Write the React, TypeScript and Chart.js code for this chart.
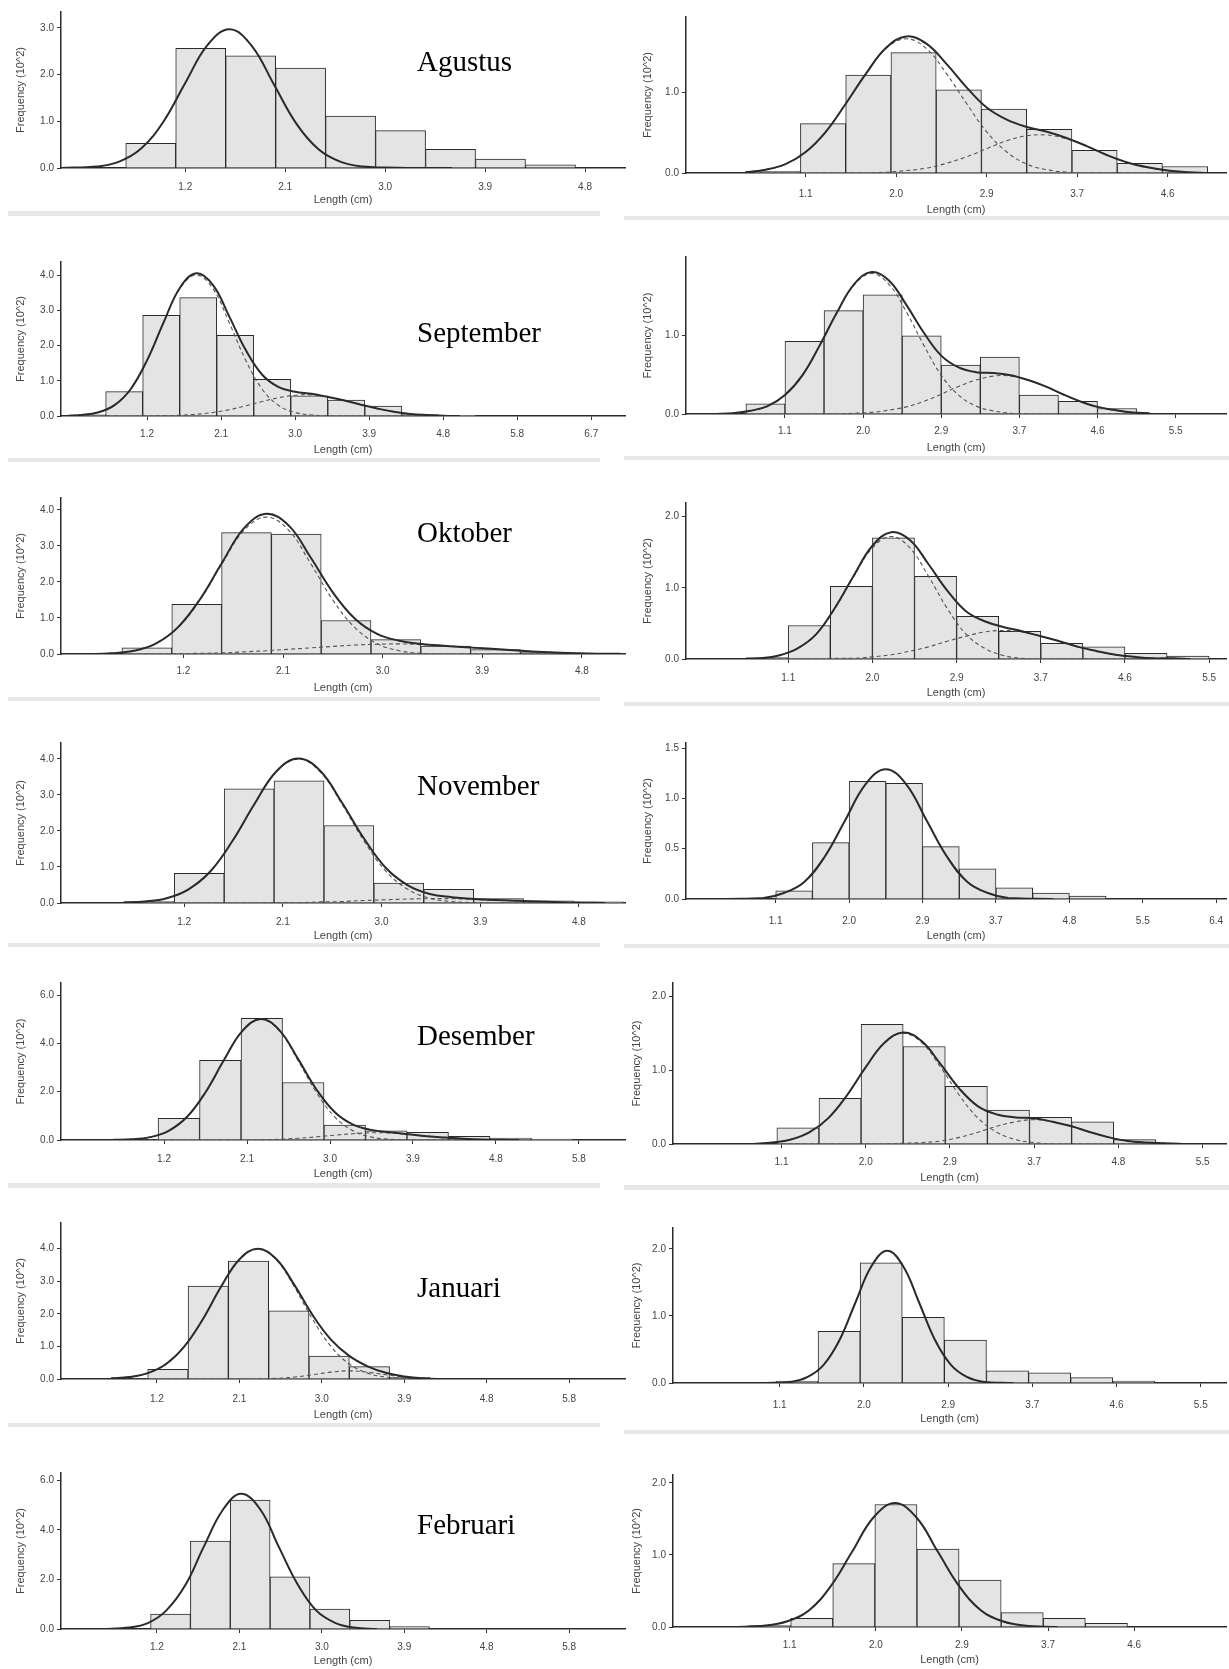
import React, { useEffect, useRef } from "react";
import { Chart, registerables } from "chart.js";
Chart.register(...registerables);

// ---------------- tick labels ----------------
const leftTicks5 = [1.2, 2.1, 3.0, 3.9, 4.8];
const leftLabels5 = ["1.2", "2.1", "3.0", "3.9", "4.8"];
const leftTicks6 = [1.2, 2.1, 3.0, 3.9, 4.8, 5.7];
const leftLabels6 = ["1.2", "2.1", "3.0", "3.9", "4.8", "5.8"];
const leftTicks7 = [1.2, 2.1, 3.0, 3.9, 4.8, 5.7, 6.6];
const leftLabels7 = ["1.2", "2.1", "3.0", "3.9", "4.8", "5.8", "6.7"];
const rightTicks5 = [1.1, 2.0, 2.9, 3.8, 4.7];
const rightLabels5 = ["1.1", "2.0", "2.9", "3.7", "4.6"];
const rightTicks6 = [1.1, 2.0, 2.9, 3.8, 4.7, 5.6];
const rightLabels6 = ["1.1", "2.0", "2.9", "3.7", "4.6", "5.5"];
const rightLabels6b = ["1.1", "2.0", "2.9", "3.7", "4.8", "5.5"];
const rightTicks7 = [1.1, 2.0, 2.9, 3.8, 4.7, 5.6, 6.5];
const rightLabels7 = ["1.1", "2.0", "2.9", "3.7", "4.8", "5.5", "6.4"];
const yTicks01 = [0, 1];
const yTicks012 = [0, 1, 2];
const yTicks0to3 = [0, 1, 2, 3];
const yTicks0to4 = [0, 1, 2, 3, 4];
const yTicksEven6 = [0, 2, 4, 6];
const yTicksHalf = [0, 0.5, 1.0, 1.5];

const months = ["Agustus", "September", "Oktober", "November", "Desember", "Januari", "Februari"];

// ---------------- Agustus ----------------
const agL_binStart = 0.664, agL_binWidth = 0.45;
const agL_counts = [0.53, 2.56, 2.40, 2.14, 1.11, 0.80, 0.40, 0.19, 0.07];
const agL_curveX = [0.06, 0.2, 0.4, 0.6, 0.8, 1.0, 1.2, 1.4, 1.6, 1.8, 2.0, 2.2, 2.4, 2.6, 2.8, 3.0, 3.2, 3.6];
const agL_total = [0, 0.01, 0.03, 0.13, 0.41, 0.98, 1.82, 2.63, 2.97, 2.61, 1.78, 0.95, 0.40, 0.13, 0.03, 0.01, 0, 0];

const agR_binStart = 0.598, agR_binWidth = 0.45;
const agR_counts = [0.02, 0.61, 1.21, 1.49, 1.03, 0.79, 0.54, 0.28, 0.12, 0.08];
const agR_curveX = [0.5, 0.7, 0.9, 1.1, 1.3, 1.5, 1.7, 1.9, 2.1, 2.3, 2.5, 2.7, 2.9, 3.1, 3.3, 3.5, 3.7, 3.9, 4.1, 4.3, 4.5, 4.7, 4.9, 5.1];
const agR_total = [0.01, 0.04, 0.11, 0.26, 0.51, 0.86, 1.23, 1.55, 1.69, 1.60, 1.35, 1.06, 0.81, 0.66, 0.57, 0.51, 0.43, 0.33, 0.22, 0.13, 0.07, 0.03, 0.01, 0];
const agR_comp1 = [0.01, 0.04, 0.11, 0.26, 0.51, 0.86, 1.23, 1.54, 1.66, 1.54, 1.23, 0.86, 0.51, 0.26, 0.11, 0.04, 0.01, 0, 0, 0, 0, 0, 0, 0];
const agR_comp2 = [0, 0, 0, 0, 0, 0, 0, 0.01, 0.03, 0.06, 0.12, 0.20, 0.30, 0.40, 0.46, 0.47, 0.42, 0.33, 0.22, 0.13, 0.07, 0.03, 0.01, 0];

// ---------------- September ----------------
const seL_binStart = 0.247, seL_binWidth = 0.45;
const seL_counts = [0.03, 0.69, 2.86, 3.36, 2.29, 1.04, 0.57, 0.45, 0.28, 0.04, 0.02];
const seL_curveX = [0.2, 0.4, 0.6, 0.8, 1.0, 1.2, 1.4, 1.6, 1.8, 2.0, 2.2, 2.4, 2.6, 2.8, 3.0, 3.2, 3.4, 3.6, 3.8, 4.0, 4.2, 4.4, 4.6, 4.8, 5.0];
const seL_total = [0, 0.03, 0.10, 0.30, 0.76, 1.58, 2.65, 3.64, 4.05, 3.72, 2.82, 1.87, 1.17, 0.82, 0.69, 0.63, 0.54, 0.44, 0.32, 0.21, 0.12, 0.06, 0.03, 0.01, 0];
const seL_comp1 = [0, 0.03, 0.10, 0.30, 0.76, 1.58, 2.64, 3.62, 4.0, 3.62, 2.64, 1.58, 0.76, 0.30, 0.10, 0.03, 0, 0, 0, 0, 0, 0, 0, 0, 0];
const seL_comp2 = [0, 0, 0, 0, 0, 0, 0.01, 0.02, 0.05, 0.10, 0.18, 0.29, 0.41, 0.52, 0.59, 0.60, 0.54, 0.44, 0.32, 0.21, 0.12, 0.06, 0.03, 0.01, 0];

const seR_binStart = 0.65, seR_binWidth = 0.45;
const seR_counts = [0.13, 0.92, 1.31, 1.51, 0.99, 0.62, 0.72, 0.24, 0.16, 0.07];
const seR_curveX = [0.3, 0.5, 0.7, 0.9, 1.1, 1.3, 1.5, 1.7, 1.9, 2.1, 2.3, 2.5, 2.7, 2.9, 3.1, 3.3, 3.5, 3.7, 3.9, 4.1, 4.3, 4.5, 4.7, 4.9, 5.1, 5.3];
const seR_total = [0, 0.01, 0.04, 0.10, 0.24, 0.49, 0.87, 1.29, 1.65, 1.80, 1.69, 1.38, 1.03, 0.74, 0.59, 0.53, 0.52, 0.49, 0.43, 0.35, 0.25, 0.16, 0.09, 0.05, 0.02, 0.01];
const seR_comp1 = [0, 0.01, 0.04, 0.10, 0.24, 0.49, 0.87, 1.29, 1.64, 1.78, 1.64, 1.29, 0.87, 0.49, 0.24, 0.10, 0.04, 0.01, 0, 0, 0, 0, 0, 0, 0, 0];
const seR_comp2 = [0, 0, 0, 0, 0, 0, 0, 0, 0.01, 0.02, 0.05, 0.09, 0.16, 0.25, 0.35, 0.43, 0.48, 0.48, 0.43, 0.35, 0.25, 0.16, 0.09, 0.05, 0.02, 0.01];

// ---------------- Oktober ----------------
const okL_binStart = 0.645, okL_binWidth = 0.45;
const okL_counts = [0.17, 1.38, 3.37, 3.33, 0.93, 0.40, 0.22, 0.12, 0.05];
const okL_curveX = [0.15, 0.35, 0.55, 0.75, 0.95, 1.15, 1.35, 1.55, 1.75, 1.95, 2.15, 2.35, 2.55, 2.75, 2.95, 3.15, 3.35, 3.55, 3.75, 3.95, 4.15, 4.35, 4.55, 4.75, 4.95, 5.15];
const okL_total = [0, 0, 0.02, 0.09, 0.29, 0.74, 1.52, 2.54, 3.50, 3.89, 3.57, 2.68, 1.71, 0.98, 0.56, 0.37, 0.28, 0.23, 0.19, 0.15, 0.11, 0.07, 0.04, 0.02, 0.01, 0.01];
const okL_comp1 = [0, 0, 0.02, 0.09, 0.29, 0.73, 1.50, 2.51, 3.44, 3.80, 3.44, 2.51, 1.50, 0.73, 0.29, 0.09, 0.02, 0, 0, 0, 0, 0, 0, 0, 0, 0];
const okL_comp2 = [0, 0, 0, 0, 0, 0.01, 0.02, 0.03, 0.06, 0.09, 0.13, 0.17, 0.21, 0.25, 0.27, 0.28, 0.26, 0.23, 0.19, 0.15, 0.11, 0.07, 0.04, 0.02, 0.01, 0.01];

const okR_binStart = 0.65, okR_binWidth = 0.45;
const okR_counts = [0.02, 0.47, 1.02, 1.70, 1.16, 0.60, 0.39, 0.22, 0.17, 0.08, 0.04];
const okR_curveX = [0.4, 0.6, 0.8, 1.0, 1.2, 1.4, 1.6, 1.8, 2.0, 2.2, 2.4, 2.6, 2.8, 3.0, 3.2, 3.4, 3.6, 3.8, 4.0, 4.2, 4.4, 4.6, 4.8, 5.0, 5.2, 5.4];
const okR_total = [0, 0, 0.01, 0.05, 0.15, 0.35, 0.72, 1.17, 1.59, 1.78, 1.67, 1.33, 0.96, 0.67, 0.53, 0.45, 0.39, 0.32, 0.25, 0.17, 0.11, 0.06, 0.03, 0.01, 0.01, 0];
const okR_comp1 = [0, 0, 0.01, 0.05, 0.15, 0.35, 0.71, 1.16, 1.56, 1.72, 1.56, 1.16, 0.71, 0.35, 0.15, 0.05, 0.01, 0, 0, 0, 0, 0, 0, 0, 0, 0];
const okR_comp2 = [0, 0, 0, 0, 0, 0, 0.01, 0.01, 0.03, 0.06, 0.11, 0.17, 0.25, 0.32, 0.38, 0.40, 0.38, 0.32, 0.25, 0.17, 0.11, 0.06, 0.03, 0.01, 0.01, 0];

// ---------------- November ----------------
const noL_binStart = 0.655, noL_binWidth = 0.455;
const noL_counts = [0.04, 0.82, 3.17, 3.39, 2.15, 0.55, 0.38, 0.12, 0.06, 0.03];
const noL_curveX = [0.64, 0.84, 1.04, 1.24, 1.44, 1.64, 1.84, 2.04, 2.24, 2.44, 2.64, 2.84, 3.04, 3.24, 3.44, 3.64, 3.84, 4.04, 4.24, 4.44, 4.64, 4.84, 5.04];
const noL_total = [0.01, 0.04, 0.13, 0.38, 0.88, 1.72, 2.74, 3.65, 4.01, 3.67, 2.78, 1.79, 0.97, 0.49, 0.25, 0.16, 0.11, 0.08, 0.06, 0.04, 0.02, 0.01, 0];
const noL_comp1 = [0.01, 0.04, 0.13, 0.38, 0.88, 1.72, 2.74, 3.64, 4.0, 3.64, 2.74, 1.72, 0.88, 0.38, 0.13, 0.04, 0.01, 0, 0, 0, 0, 0, 0];
const noL_comp2 = [0, 0, 0, 0, 0, 0, 0, 0.01, 0.01, 0.03, 0.04, 0.07, 0.09, 0.11, 0.12, 0.12, 0.10, 0.08, 0.06, 0.04, 0.02, 0.01, 0];

const noR_binStart = 1.1, noR_binWidth = 0.45;
const noR_counts = [0.08, 0.56, 1.17, 1.15, 0.52, 0.30, 0.11, 0.06, 0.03];
const noR_curveX = [0.5, 0.95, 1.2, 1.45, 1.7, 1.95, 2.2, 2.45, 2.7, 2.95, 3.2, 3.45, 3.7, 3.95, 4.5];
const noR_total = [0, 0.01, 0.06, 0.17, 0.42, 0.78, 1.14, 1.29, 1.14, 0.78, 0.42, 0.17, 0.06, 0.01, 0];

// ---------------- Desember ----------------
const deL_binStart = 1.135, deL_binWidth = 0.45;
const deL_counts = [0.9, 3.3, 5.04, 2.38, 0.62, 0.38, 0.32, 0.15, 0.08, 0.04];
const deL_curveX = [0.65, 0.85, 1.05, 1.25, 1.45, 1.65, 1.85, 2.05, 2.25, 2.45, 2.65, 2.85, 3.05, 3.25, 3.45, 3.65, 3.85, 4.05, 4.25, 4.45, 4.65, 4.85, 5.05];
const deL_total = [0.01, 0.03, 0.12, 0.38, 0.96, 1.98, 3.31, 4.52, 5.01, 4.55, 3.38, 2.11, 1.16, 0.64, 0.42, 0.32, 0.24, 0.16, 0.10, 0.05, 0.02, 0.01, 0];
const deL_comp1 = [0.01, 0.03, 0.12, 0.38, 0.96, 1.98, 3.31, 4.52, 5.0, 4.52, 3.31, 1.98, 0.96, 0.38, 0.12, 0.03, 0.01, 0, 0, 0, 0, 0, 0];
const deL_comp2 = [0, 0, 0, 0, 0, 0, 0, 0, 0.01, 0.03, 0.07, 0.13, 0.20, 0.26, 0.30, 0.29, 0.23, 0.16, 0.10, 0.05, 0.02, 0.01, 0];

const deR_binStart = 1.05, deR_binWidth = 0.45;
const deR_counts = [0.22, 0.62, 1.62, 1.32, 0.78, 0.46, 0.36, 0.30, 0.06];
const deR_curveX = [0.8, 1.0, 1.2, 1.4, 1.6, 1.8, 2.0, 2.2, 2.4, 2.6, 2.8, 3.0, 3.2, 3.4, 3.6, 3.8, 4.0, 4.2, 4.4, 4.6, 4.8, 5.0, 5.2, 5.4, 5.6];
const deR_total = [0, 0.02, 0.06, 0.16, 0.35, 0.66, 1.04, 1.37, 1.51, 1.39, 1.08, 0.75, 0.51, 0.40, 0.36, 0.35, 0.30, 0.24, 0.16, 0.09, 0.04, 0.02, 0.01, 0, 0];
const deR_comp1 = [0, 0.02, 0.06, 0.16, 0.35, 0.66, 1.04, 1.37, 1.5, 1.37, 1.04, 0.66, 0.35, 0.16, 0.06, 0.02, 0, 0, 0, 0, 0, 0, 0, 0, 0];
const deR_comp2 = [0, 0, 0, 0, 0, 0, 0, 0, 0.01, 0.02, 0.04, 0.09, 0.16, 0.24, 0.30, 0.33, 0.30, 0.24, 0.16, 0.09, 0.04, 0.02, 0.01, 0, 0];

// ---------------- Januari ----------------
const jaL_binStart = 1.1, jaL_binWidth = 0.44;
const jaL_counts = [0.3, 2.85, 3.62, 2.09, 0.7, 0.38, 0.05];
const jaL_curveX = [0.7, 0.9, 1.1, 1.3, 1.5, 1.7, 1.9, 2.1, 2.3, 2.5, 2.7, 2.9, 3.1, 3.3, 3.5, 3.7, 3.9, 4.1, 4.3, 4.5, 4.7, 4.9];
const jaL_total = [0.02, 0.06, 0.18, 0.46, 1.0, 1.83, 2.83, 3.67, 4.0, 3.69, 2.89, 1.96, 1.21, 0.71, 0.39, 0.19, 0.08, 0.02, 0, 0, 0, 0];
const jaL_comp1 = [0.02, 0.06, 0.18, 0.46, 1.0, 1.83, 2.83, 3.67, 4.0, 3.67, 2.83, 1.83, 1.0, 0.46, 0.18, 0.06, 0.02, 0, 0, 0, 0, 0];
const jaL_comp2 = [0, 0, 0, 0, 0, 0, 0, 0, 0, 0.02, 0.06, 0.13, 0.21, 0.25, 0.21, 0.13, 0.06, 0.02, 0, 0, 0, 0];

const jaR_binStart = 1.06, jaR_binWidth = 0.45;
const jaR_counts = [0.03, 0.77, 1.79, 0.98, 0.64, 0.18, 0.15, 0.08, 0.03];
const jaR_curveX = [0.9, 1.23, 1.40, 1.57, 1.74, 1.91, 2.08, 2.25, 2.42, 2.59, 2.76, 2.93, 3.10, 3.27, 3.6];
const jaR_total = [0, 0.02, 0.09, 0.27, 0.64, 1.20, 1.74, 1.97, 1.74, 1.20, 0.64, 0.27, 0.09, 0.02, 0];

// ---------------- Februari ----------------
const feL_binStart = 1.13, feL_binWidth = 0.435;
const feL_counts = [0.6, 3.55, 5.2, 2.1, 0.8, 0.35, 0.1];
const feL_curveX = [0.6, 0.89, 1.10, 1.30, 1.51, 1.71, 1.92, 2.12, 2.33, 2.53, 2.74, 2.94, 3.15, 3.35, 3.6];
const feL_total = [0, 0.06, 0.24, 0.74, 1.77, 3.31, 4.81, 5.45, 4.81, 3.31, 1.77, 0.74, 0.24, 0.06, 0];

const feR_binStart = 0.67, feR_binWidth = 0.44;
const feR_counts = [0.02, 0.12, 0.88, 1.7, 1.08, 0.65, 0.2, 0.12, 0.05];
const feR_curveX = [0.5, 0.85, 1.075, 1.30, 1.525, 1.75, 1.975, 2.2, 2.425, 2.65, 2.875, 3.1, 3.325, 3.55, 3.9];
const feR_total = [0, 0.02, 0.08, 0.23, 0.56, 1.04, 1.52, 1.72, 1.52, 1.04, 0.56, 0.23, 0.08, 0.02, 0];

// ---------------- panel definitions ----------------
type Series = { binStart: number; binWidth: number; counts: number[]; curveX: number[]; total: number[]; comps: number[][];
  xTicks: number[]; xLabels: string[]; yTicks: number[]; xmin: number; xmax: number; ymax: number };
type Box = { cl: number; axisX: number; axisRight: number; top: number; base: number; lenY: number; tickPad: number; titlePad: number };
type PanelDef = { s: Series; b: Box };

const panels: PanelDef[] = [
  { s: { binStart: agL_binStart, binWidth: agL_binWidth, counts: agL_counts, curveX: agL_curveX, total: agL_total, comps: [],
      xTicks: leftTicks5, xLabels: leftLabels5, yTicks: yTicks0to3, xmin: 0.081, xmax: 5.16, ymax: 3.34 },
    b: { cl: 8, axisX: 61, axisRight: 625, top: 12, base: 168, lenY: 200, tickPad: 9, titlePad: 6 } },
  { s: { binStart: agR_binStart, binWidth: agR_binWidth, counts: agR_counts, curveX: agR_curveX, total: agR_total, comps: [agR_comp1, agR_comp2],
      xTicks: rightTicks5, xLabels: rightLabels5, yTicks: yTicks01, xmin: -0.09, xmax: 5.28, ymax: 1.93 },
    b: { cl: 630, axisX: 686, axisRight: 1226, top: 17, base: 173, lenY: 210, tickPad: 11, titlePad: 11 } },
  { s: { binStart: seL_binStart, binWidth: seL_binWidth, counts: seL_counts, curveX: seL_curveX, total: seL_total, comps: [seL_comp1, seL_comp2],
      xTicks: leftTicks7, xLabels: leftLabels7, yTicks: yTicks0to4, xmin: 0.154, xmax: 7.01, ymax: 4.37 },
    b: { cl: 8, axisX: 61, axisRight: 625, top: 262, base: 416, lenY: 450, tickPad: 8, titlePad: 6 } },
  { s: { binStart: seR_binStart, binWidth: seR_binWidth, counts: seR_counts, curveX: seR_curveX, total: seR_total, comps: [seR_comp1, seR_comp2],
      xTicks: rightTicks6, xLabels: rightLabels6, yTicks: yTicks01, xmin: -0.04, xmax: 6.18, ymax: 1.99 },
    b: { cl: 630, axisX: 686, axisRight: 1226, top: 257, base: 414, lenY: 448, tickPad: 7, titlePad: 11 } },
  { s: { binStart: okL_binStart, binWidth: okL_binWidth, counts: okL_counts, curveX: okL_curveX, total: okL_total, comps: [okL_comp1, okL_comp2],
      xTicks: leftTicks5, xLabels: leftLabels5, yTicks: yTicks0to4, xmin: 0.094, xmax: 5.19, ymax: 4.33 },
    b: { cl: 8, axisX: 61, axisRight: 625, top: 498, base: 654, lenY: 688, tickPad: 7, titlePad: 6 } },
  { s: { binStart: okR_binStart, binWidth: okR_binWidth, counts: okR_counts, curveX: okR_curveX, total: okR_total, comps: [okR_comp1, okR_comp2],
      xTicks: rightTicks6, xLabels: rightLabels6, yTicks: yTicks012, xmin: 0.007, xmax: 5.78, ymax: 2.19 },
    b: { cl: 630, axisX: 686, axisRight: 1226, top: 503, base: 659, lenY: 693, tickPad: 9, titlePad: 11 } },
  { s: { binStart: noL_binStart, binWidth: noL_binWidth, counts: noL_counts, curveX: noL_curveX, total: noL_total, comps: [noL_comp1, noL_comp2],
      xTicks: leftTicks5, xLabels: leftLabels5, yTicks: yTicks0to4, xmin: 0.077, xmax: 5.22, ymax: 4.44 },
    b: { cl: 8, axisX: 61, axisRight: 625, top: 743, base: 903, lenY: 936, tickPad: 9, titlePad: 6 } },
  { s: { binStart: noR_binStart, binWidth: noR_binWidth, counts: noR_counts, curveX: noR_curveX, total: noR_total, comps: [],
      xTicks: rightTicks7, xLabels: rightLabels7, yTicks: yTicksHalf, xmin: 0.0, xmax: 6.62, ymax: 1.55 },
    b: { cl: 630, axisX: 686, axisRight: 1226, top: 743, base: 899, lenY: 936, tickPad: 12, titlePad: 11 } },
  { s: { binStart: deL_binStart, binWidth: deL_binWidth, counts: deL_counts, curveX: deL_curveX, total: deL_total, comps: [deL_comp1, deL_comp2],
      xTicks: leftTicks6, xLabels: leftLabels6, yTicks: yTicksEven6, xmin: 0.082, xmax: 6.2, ymax: 6.5 },
    b: { cl: 8, axisX: 61, axisRight: 625, top: 983, base: 1140, lenY: 1174, tickPad: 9, titlePad: 6 } },
  { s: { binStart: deR_binStart, binWidth: deR_binWidth, counts: deR_counts, curveX: deR_curveX, total: deR_total, comps: [deR_comp1, deR_comp2],
      xTicks: rightTicks6, xLabels: rightLabels6b, yTicks: yTicks012, xmin: -0.06, xmax: 5.85, ymax: 2.18 },
    b: { cl: 620, axisX: 673, axisRight: 1226, top: 983, base: 1144, lenY: 1178, tickPad: 8, titlePad: 10 } },
  { s: { binStart: jaL_binStart, binWidth: jaL_binWidth, counts: jaL_counts, curveX: jaL_curveX, total: jaL_total, comps: [jaL_comp1, jaL_comp2],
      xTicks: leftTicks6, xLabels: leftLabels6, yTicks: yTicks0to4, xmin: 0.153, xmax: 6.31, ymax: 4.79 },
    b: { cl: 8, axisX: 61, axisRight: 625, top: 1223, base: 1379, lenY: 1415, tickPad: 10, titlePad: 6 } },
  { s: { binStart: jaR_binStart, binWidth: jaR_binWidth, counts: jaR_counts, curveX: jaR_curveX, total: jaR_total, comps: [],
      xTicks: rightTicks6, xLabels: rightLabels6, yTicks: yTicks012, xmin: -0.04, xmax: 5.87, ymax: 2.31 },
    b: { cl: 620, axisX: 673, axisRight: 1226, top: 1228, base: 1383, lenY: 1419, tickPad: 12, titlePad: 10 } },
  { s: { binStart: feL_binStart, binWidth: feL_binWidth, counts: feL_counts, curveX: feL_curveX, total: feL_total, comps: [],
      xTicks: leftTicks6, xLabels: leftLabels6, yTicks: yTicksEven6, xmin: 0.152, xmax: 6.31, ymax: 6.29 },
    b: { cl: 8, axisX: 61, axisRight: 625, top: 1473, base: 1629, lenY: 1661, tickPad: 8, titlePad: 6 } },
  { s: { binStart: feR_binStart, binWidth: feR_binWidth, counts: feR_counts, curveX: feR_curveX, total: feR_total, comps: [],
      xTicks: rightTicks5, xLabels: rightLabels5, yTicks: yTicks012, xmin: -0.12, xmax: 5.66, ymax: 2.11 },
    b: { cl: 620, axisX: 673, axisRight: 1226, top: 1475, base: 1627, lenY: 1660, tickPad: 8, titlePad: 10 } },
];

const monthTops = [47, 318, 518, 771, 1021, 1273, 1510];
const separators = [
  [8, 600, 211, 5], [624, 1229, 216, 4],
  [8, 600, 458, 4], [624, 1229, 456, 4],
  [8, 600, 697, 4], [624, 1229, 702, 4],
  [8, 600, 943, 4], [624, 1229, 944, 4],
  [8, 600, 1183, 5], [624, 1229, 1185, 5],
  [8, 600, 1423, 4], [624, 1229, 1430, 4],
];

const FONT = "'Liberation Sans', Arial, sans-serif";
const TEXT = "#444";
const INK = "#2a2a2a";

function Panel({ def }: { def: PanelDef }) {
  const ref = useRef<HTMLCanvasElement | null>(null);
  const { s, b } = def;
  const PAD_TOP = 12, PAD_RIGHT = 20;
  const canvasTop = b.top - PAD_TOP;
  const cw = b.axisRight + PAD_RIGHT - b.cl;
  const ch = b.lenY + 7 - canvasTop;
  const xH = b.lenY + 7 - b.base;
  const yW = b.axisX - b.cl;

  useEffect(() => {
    if (!ref.current) return;
    const bars = s.counts.map((c, i) => ({ x: s.binStart + s.binWidth * (i + 0.5), y: c }));
    const line = (ys: number[]) => s.curveX.map((x, i) => ({ x, y: ys[i] }));
    const datasets: any[] = [
      { type: "line", data: line(s.total), borderColor: INK, borderWidth: 2, pointRadius: 0, tension: 0.4, fill: false, order: 0 },
      ...s.comps.map((c) => ({ type: "line", data: line(c), borderColor: "#555", borderWidth: 1.1, borderDash: [4, 3],
        pointRadius: 0, tension: 0.4, fill: false, order: 1 })),
      { type: "bar", data: bars, backgroundColor: "#e4e4e4", borderColor: INK, borderWidth: 1,
        barPercentage: 1, categoryPercentage: 1, order: 2 },
    ];
    const gridCfg = { display: true, drawOnChartArea: false, drawTicks: true, tickLength: 4, color: "#333", lineWidth: 1, offset: false };
    const chart = new Chart(ref.current, {
      type: "bar",
      data: { datasets },
      options: {
        responsive: false,
        animation: false,
        events: [],
        layout: { padding: { top: PAD_TOP, right: PAD_RIGHT, left: 0, bottom: 0 } },
        plugins: { legend: { display: false }, tooltip: { enabled: false } },
        scales: {
          x: {
            type: "linear", min: s.xmin, max: s.xmax, offset: false,
            afterBuildTicks: (sc: any) => { sc.ticks = s.xTicks.map((v) => ({ value: v })); },
            afterFit: (sc: any) => { sc.height = xH; },
            ticks: { autoSkip: false, maxRotation: 0, minRotation: 0, padding: b.tickPad, color: TEXT,
              font: { family: FONT, size: 10 }, callback: (_v: any, i: number) => s.xLabels[i] },
            grid: gridCfg,
            border: { display: true, color: INK, width: 1.5 },
            title: { display: true, text: "Length (cm)", color: TEXT, font: { family: FONT, size: 11 }, padding: 0 },
          },
          y: {
            type: "linear", min: 0, max: s.ymax,
            afterBuildTicks: (sc: any) => { sc.ticks = s.yTicks.map((v) => ({ value: v })); },
            afterFit: (sc: any) => { sc.width = yW; },
            ticks: { padding: 3, color: TEXT, font: { family: FONT, size: 10 },
              callback: (v: any) => Number(v).toFixed(1) },
            grid: gridCfg,
            border: { display: true, color: INK, width: 1.5 },
            title: { display: true, text: "Frequency (10^2)", color: TEXT, font: { family: FONT, size: 11 },
              padding: { top: b.titlePad, bottom: 0 } },
          },
        },
      } as any,
    });
    return () => chart.destroy();
  }, [def]);

  return (
    <canvas ref={ref} width={cw} height={ch}
      style={{ position: "absolute", left: b.cl, top: canvasTop, width: cw, height: ch }} />
  );
}

export default function App() {
  return (
    <div style={{ position: "absolute", left: 0, top: 0, width: 1229, height: 1669, overflow: "hidden", background: "#fff" }}>
      {separators.map(([x1, x2, y, h], i) => (
        <div key={"sep" + i} style={{ position: "absolute", left: x1, top: y, width: x2 - x1, height: h, background: "#e8e8e8" }} />
      ))}
      {panels.map((p, i) => <Panel key={i} def={p} />)}
      {months.map((m, i) => (
        <div key={m} style={{ position: "absolute", left: 417, top: monthTops[i], fontFamily: "'Liberation Serif', 'Times New Roman', serif",
          fontSize: 29, lineHeight: "29px", color: "#000", whiteSpace: "nowrap" }}>{m}</div>
      ))}
    </div>
  );
}
